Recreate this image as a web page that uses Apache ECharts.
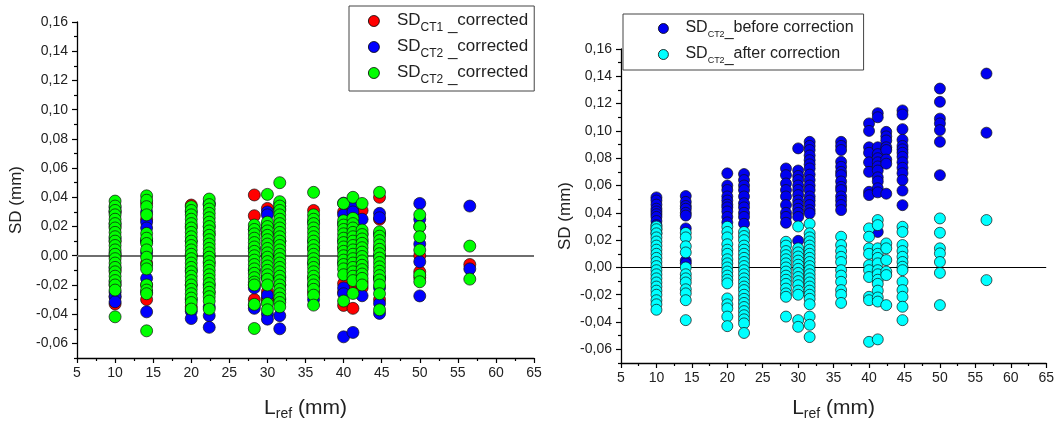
<!DOCTYPE html>
<html>
<head>
<meta charset="utf-8">
<script src="https://cdn.jsdelivr.net/npm/echarts@6/dist/echarts.min.js"></script>
<style>
  html, body { margin: 0; padding: 0; background: #fff; }
  #chart { width: 1057px; height: 426px; }
</style>
</head>
<body>
<div id="chart"></div>
<script>
// Reference lengths L_ref (mm) of the measured features
const lengths = [10, 14.14, 20, 22.36, 28.28, 30, 31.62, 36.06, 40, 41.23, 42.43, 44.72, 50, 56.57];

// Left panel: SD (mm) per length, one inner list per entry of `lengths`
const sdCT1Corrected = [
  [0.030, 0.020, 0.010, 0.000, -0.010, -0.020, -0.028, -0.033],
  [0.036, 0.025, 0.010, -0.005, -0.020, -0.030],
  [0.0347, 0.020, 0.000, -0.020, -0.035],
  [0.035, 0.015, -0.005, -0.025],
  [0.0416, 0.0274, -0.020, -0.030],
  [0.0324, 0.015, -0.0247, -0.029, -0.031],
  [0.034, 0.010, -0.020],
  [0.031, 0.005, -0.015, -0.025],
  [0.030, 0.005, -0.019, -0.025, -0.034],
  [0.028, 0.010, -0.010, -0.020, -0.036],
  [0.031, 0.015, -0.005, -0.018, -0.022],
  [0.040, 0.025, 0.005, -0.015, -0.030],
  [0.020, 0.000, -0.011, -0.015],
  [-0.006]
];
const sdCT2Corrected = [
  [0.033, 0.030, 0.022, 0.012, 0.002, -0.008, -0.018, -0.025, -0.028, -0.0315],
  [0.030, 0.023, 0.019, 0.010, 0.002, -0.0155, -0.025, -0.0384],
  [0.030, 0.010, -0.010, -0.030, -0.038, -0.043],
  [0.036, 0.020, 0.000, -0.020, -0.035, -0.041, -0.049],
  [0.018, 0.005, -0.010, -0.022, -0.034, -0.036],
  [0.030, 0.028, 0.020, 0.000, -0.015, -0.027, -0.040, -0.0434],
  [0.036, 0.032, 0.010, -0.015, -0.030, -0.041, -0.050],
  [0.023, 0.010, -0.005, -0.020, -0.030],
  [0.036, 0.028, 0.022, 0.010, -0.005, -0.022, -0.026, -0.0555],
  [0.0336, 0.030, 0.020, 0.010, -0.005, -0.015, -0.0525],
  [0.025, 0.010, -0.008, -0.0274],
  [0.029, 0.026, 0.015, 0.000, -0.015, -0.022, -0.0327, -0.0395],
  [0.0358, 0.025, 0.008, -0.0041, -0.0275],
  [0.034, -0.009]
];
const sdCT2CorrectedB = [
  [0.0374, 0.034, 0.031, 0.028, 0.025, 0.022, 0.019, 0.016, 0.013, 0.010, 0.007, 0.004, 0.001, -0.002, -0.005, -0.008, -0.011, -0.014, -0.017, -0.020, -0.0235, -0.0418],
  [0.041, 0.038, 0.0336, 0.028, 0.0153, 0.012, 0.0084, 0.004, -0.001, -0.0064, -0.009, -0.020, -0.0235, -0.026, -0.0514],
  [0.0336, 0.031, 0.028, 0.025, 0.022, 0.019, 0.016, 0.013, 0.010, 0.007, 0.004, 0.001, -0.002, -0.005, -0.008, -0.011, -0.014, -0.017, -0.020, -0.023, -0.026, -0.029, -0.032, -0.0365],
  [0.0388, 0.035, 0.032, 0.029, 0.026, 0.023, 0.020, 0.017, 0.014, 0.011, 0.008, 0.005, 0.002, -0.001, -0.004, -0.007, -0.010, -0.013, -0.016, -0.019, -0.022, -0.025, -0.028, -0.031, -0.0365],
  [0.021, 0.018, 0.015, 0.012, 0.009, 0.006, 0.003, 0.000, -0.003, -0.006, -0.009, -0.012, -0.015, -0.018, -0.020, -0.0333, -0.0498],
  [0.042, 0.023, 0.020, 0.017, 0.014, 0.011, 0.008, 0.005, 0.002, -0.001, -0.004, -0.007, -0.010, -0.013, -0.016, -0.020, -0.0327, -0.037],
  [0.050, 0.037, 0.034, 0.031, 0.028, 0.025, 0.022, 0.019, 0.016, 0.013, 0.010, 0.007, 0.004, 0.001, -0.002, -0.005, -0.008, -0.011, -0.014, -0.017, -0.020, -0.023, -0.026, -0.029, -0.032, -0.035],
  [0.0434, 0.028, 0.025, 0.022, 0.019, 0.016, 0.013, 0.010, 0.007, 0.004, 0.001, -0.002, -0.005, -0.008, -0.011, -0.014, -0.017, -0.020, -0.023, -0.027, -0.0338],
  [0.0358, 0.024, 0.021, 0.018, 0.015, 0.012, 0.009, 0.006, 0.003, 0.000, -0.003, -0.006, -0.009, -0.013, -0.031],
  [0.040, 0.0256, 0.022, 0.019, 0.016, 0.013, 0.010, 0.007, 0.004, 0.001, -0.002, -0.005, -0.008, -0.011, -0.014, -0.017, -0.0258],
  [0.0358, 0.0176, 0.0145, 0.0115, 0.0085, 0.0055, 0.0025, -0.0005, -0.0035, -0.0065, -0.0095, -0.0125, -0.0155, -0.020],
  [0.0434, 0.0164, 0.0134, 0.0104, 0.0074, 0.0044, 0.0014, -0.0016, -0.0046, -0.0076, -0.0106, -0.0136, -0.0166, -0.020, -0.026, -0.037],
  [0.028, 0.0199, 0.013, 0.0039, -0.0132, -0.0178],
  [0.0066, -0.016]
];

// Right panel: SD_CT2 before and after correction
const sdCT2Before = [
  [0.0513, 0.049, 0.046, 0.043, 0.041, 0.039, 0.037, 0.034, 0.031, 0.028, 0.025],
  [0.0523, 0.048, 0.045, 0.043, 0.040, 0.038, 0.0286, 0.005, 0.003],
  [0.0689, 0.060, 0.0567, 0.052, 0.049, 0.046, 0.044, 0.041, 0.037, 0.033],
  [0.0684, 0.064, 0.060, 0.0567, 0.052, 0.047, 0.044, 0.040, 0.037, 0.032],
  [0.0725, 0.0676, 0.0615, 0.0567, 0.052, 0.0457, 0.040, 0.037, 0.0327],
  [0.0872, 0.071, 0.067, 0.064, 0.060, 0.0567, 0.053, 0.049, 0.046, 0.043, 0.040, 0.037, 0.0195],
  [0.092, 0.089, 0.086, 0.082, 0.0786, 0.0755, 0.0725, 0.068, 0.064, 0.060, 0.0567, 0.052, 0.049, 0.0457, 0.042, 0.0396],
  [0.092, 0.089, 0.086, 0.0774, 0.0737, 0.070, 0.0676, 0.063, 0.059, 0.0567, 0.052, 0.049, 0.0457, 0.042],
  [0.1055, 0.100, 0.088, 0.084, 0.077, 0.070, 0.0554, 0.053],
  [0.113, 0.110, 0.088, 0.083, 0.080, 0.077, 0.074, 0.071, 0.066, 0.063, 0.058, 0.055, 0.026],
  [0.0993, 0.096, 0.093, 0.088, 0.086, 0.079, 0.076, 0.054],
  [0.115, 0.112, 0.1013, 0.0935, 0.089, 0.0865, 0.084, 0.081, 0.077, 0.073, 0.069, 0.064, 0.0563, 0.0456],
  [0.131, 0.1213, 0.109, 0.1055, 0.1006, 0.092, 0.0676],
  [0.142, 0.0987]
];
const sdCT2After = [
  [0.030, 0.028, 0.025, 0.022, 0.019, 0.016, 0.013, 0.010, 0.007, 0.004, 0.001, -0.002, -0.005, -0.008, -0.011, -0.014, -0.017, -0.020, -0.024, -0.027, -0.031],
  [0.0253, 0.022, 0.0155, 0.011, 0.000, -0.005, -0.008, -0.011, -0.016, -0.019, -0.024, -0.0386],
  [0.0298, 0.026, 0.022, 0.017, 0.013, 0.010, 0.006, 0.003, 0.000, -0.003, -0.006, -0.009, -0.0117, -0.0227, -0.027, -0.030, -0.036, -0.043],
  [0.026, 0.023, 0.020, 0.016, 0.013, 0.010, 0.007, 0.004, 0.001, -0.002, -0.005, -0.008, -0.011, -0.014, -0.0166, -0.020, -0.023, -0.026, -0.029, -0.032, -0.035, -0.038, -0.041, -0.048],
  [0.0188, 0.016, 0.012, 0.009, 0.006, 0.003, 0.000, -0.003, -0.006, -0.009, -0.012, -0.0155, -0.019, -0.0215, -0.036],
  [0.030, 0.014, 0.011, 0.008, 0.005, 0.002, -0.001, -0.004, -0.007, -0.010, -0.013, -0.017, -0.020, -0.0386, -0.0435],
  [0.032, 0.025, 0.022, 0.019, 0.016, 0.013, 0.010, 0.007, 0.004, 0.001, -0.002, -0.005, -0.008, -0.011, -0.014, -0.017, -0.020, -0.023, -0.027, -0.036, -0.042, -0.051],
  [0.0225, 0.0164, 0.012, 0.0078, 0.004, -0.002, -0.006, -0.0105, -0.0166, -0.020, -0.026],
  [0.0286, 0.0225, 0.014, 0.010, 0.0017, -0.002, -0.007, -0.0215, -0.024, -0.0545],
  [0.0347, 0.031, 0.014, 0.010, 0.007, 0.003, -0.002, -0.005, -0.009, -0.012, -0.017, -0.022, -0.025, -0.0527],
  [0.0176, 0.014, 0.0054, -0.003, -0.0056, -0.0276],
  [0.0298, 0.026, 0.0164, 0.012, 0.0078, 0.004, 0.0005, -0.002, -0.0105, -0.0166, -0.0215, -0.0288, -0.0386],
  [0.0359, 0.0254, 0.014, 0.0103, 0.004, -0.004, -0.0276],
  [0.0347, -0.0093]
];

// Axis ranges and tick values
const xRange = [5, 65];
const yRange = [-0.07, 0.16];
const yMajorTicks = [-0.06, -0.04, -0.02, 0, 0.02, 0.04, 0.06, 0.08, 0.10, 0.12, 0.14, 0.16];
const yMinorTicks = [-0.07, -0.05, -0.03, -0.01, 0.01, 0.03, 0.05, 0.07, 0.09, 0.11, 0.13, 0.15];

// Legend entries
const leftLegend = [
  { key: 'ct1', sub: 'CT1', text: 'corrected', color: '#ff0000' },
  { key: 'ct2', sub: 'CT2', text: 'corrected', color: '#0000ff' },
  { key: 'ct2b', sub: 'CT2', text: 'corrected', color: '#00ff00' }
];
const rightLegend = [
  { key: 'before', sub: 'CT2', text: 'before correction', color: '#0000f0' },
  { key: 'after', sub: 'CT2', text: 'after correction', color: '#00ffff' }
];

const FONT = '"Liberation Sans", Arial, sans-serif';

function toPoints(columns) {
  const pts = [];
  columns.forEach((col, i) => col.forEach(v => pts.push([lengths[i], v])));
  return pts;
}

function fmtComma(v) {
  const s = Math.abs(v).toFixed(2).replace('.', ',');
  return (v < -1e-9 ? '-' : '') + s;
}

function xAxisFor(gridIndex, nameGap) {
  return {
    type: 'value', gridIndex, min: xRange[0], max: xRange[1], interval: 5,
    position: 'bottom',
    axisLine: { show: true, onZero: false, lineStyle: { color: '#000', width: 1.3 } },
    axisTick: { show: true, length: 5, lineStyle: { color: '#000', width: 1.2 } },
    minorTick: { show: true, splitNumber: 2, length: 3, lineStyle: { color: '#000', width: 1.2 } },
    splitLine: { show: false },
    axisLabel: { color: '#222', fontSize: 14, fontFamily: FONT, margin: 8 },
    name: 'L{r|ref} (mm)', nameLocation: 'middle', nameGap,
    nameTextStyle: {
      color: '#222', fontSize: 21, fontFamily: FONT,
      rich: { r: { fontSize: 14, fontFamily: FONT, color: '#222', padding: [12, 0, 0, 0] } }
    }
  };
}

function yAxesFor(gridIndex, nameGap) {
  return [
    {
      type: 'value', gridIndex, min: yRange[0], max: yRange[1], position: 'left',
      axisLine: { show: true, onZero: false, lineStyle: { color: '#000', width: 1.3 } },
      axisTick: { show: true, length: 5, customValues: yMajorTicks, lineStyle: { color: '#000', width: 1.2 } },
      axisLabel: { customValues: yMajorTicks, formatter: fmtComma, color: '#222', fontSize: 14, fontFamily: FONT, margin: 9 },
      splitLine: { show: false },
      name: 'SD (mm)', nameLocation: 'middle', nameGap,
      nameTextStyle: { color: '#222', fontSize: 17, fontFamily: FONT, padding: [0, 20, 0, 0] }
    },
    {
      type: 'value', gridIndex, min: yRange[0], max: yRange[1], position: 'left',
      axisLine: { show: false },
      axisTick: { show: true, length: 3, customValues: yMinorTicks, lineStyle: { color: '#000', width: 1.2 } },
      axisLabel: { show: false },
      splitLine: { show: false }
    }
  ];
}

function legendFor(entries, opts) {
  const labelOf = {};
  entries.forEach(e => { labelOf[e.key] = '{m|SD}{s|' + e.sub + '}' + opts.gap + '{u|_}{m|' + e.text + '}'; });
  return {
    orient: 'vertical', left: opts.left, top: opts.top,
    padding: opts.padding, itemGap: opts.itemGap,
    itemWidth: opts.itemWidth, itemHeight: opts.symbol,
    borderColor: '#444', borderWidth: 1, backgroundColor: '#fff',
    selectedMode: false,
    data: entries.map(e => ({
      name: e.key, icon: 'circle',
      itemStyle: { color: e.color, borderColor: '#000', borderWidth: 0.8 }
    })),
    formatter: name => labelOf[name],
    textStyle: { rich: opts.rich }
  };
}

function scatter(name, xi, yi, columns, color, size, withZeroLine, zeroColor, zeroWidth) {
  const s = {
    name, type: 'scatter', xAxisIndex: xi, yAxisIndex: yi,
    data: toPoints(columns), symbol: 'circle', symbolSize: size,
    itemStyle: { color, borderColor: '#111', borderWidth: 0.7, opacity: 1 },
    emphasis: { disabled: true }
  };
  if (withZeroLine) {
    s.markLine = {
      silent: true, symbol: 'none', z: 1, animation: false,
      label: { show: false },
      lineStyle: { type: 'solid', color: zeroColor, width: zeroWidth },
      data: [{ yAxis: 0 }]
    };
  }
  return s;
}

const chart = echarts.init(document.getElementById('chart'), null, { renderer: 'canvas' });
chart.setOption({
  animation: false,
  backgroundColor: '#fff',
  grid: [
    { left: 77, top: 22, width: 457, height: 336 },
    { left: 621, top: 49, width: 426, height: 314 }
  ],
  xAxis: [xAxisFor(0, 37), xAxisFor(1, 32)],
  yAxis: [...yAxesFor(0, 52), ...yAxesFor(1, 47)],
  legend: [
    legendFor(leftLegend, {
      left: 349, top: 6, padding: [2, 6, 5, 19], itemGap: 0, itemWidth: 36, symbol: 11, gap: '{m| }',
      rich: {
        m: { fontSize: 17, fontFamily: FONT, color: '#222', lineHeight: 18, padding: [0, 0, 2, 0] },
        s: { fontSize: 12, fontFamily: FONT, color: '#222', lineHeight: 12, padding: [14, 0, 0, 0] },
        u: { fontSize: 17, fontFamily: FONT, color: '#222', lineHeight: 12, padding: [8, 0, 0, 0] }
      }
    }),
    legendFor(rightLegend, {
      left: 623, top: 14, padding: [3, 10, 4, 35], itemGap: 3, itemWidth: 34, symbol: 10, gap: '',
      rich: {
        m: { fontSize: 16, fontFamily: FONT, color: '#222', lineHeight: 17, padding: [0, 0, 2, 0] },
        s: { fontSize: 9, fontFamily: FONT, color: '#222', lineHeight: 9, padding: [12, 0, 0, 0] },
        u: { fontSize: 16, fontFamily: FONT, color: '#222', lineHeight: 12, padding: [7, 0, 0, 0] }
      }
    })
  ],
  series: [
    scatter('ct1', 0, 0, sdCT1Corrected, '#ff0000', 12, true, '#6e6e6e', 2),
    scatter('ct2', 0, 0, sdCT2Corrected, '#0000ff', 12),
    scatter('ct2b', 0, 0, sdCT2CorrectedB, '#00ff00', 12),
    scatter('before', 1, 2, sdCT2Before, '#0000f0', 11, true, '#000', 1),
    scatter('after', 1, 2, sdCT2After, '#00ffff', 11)
  ]
});
</script>
</body>
</html>
